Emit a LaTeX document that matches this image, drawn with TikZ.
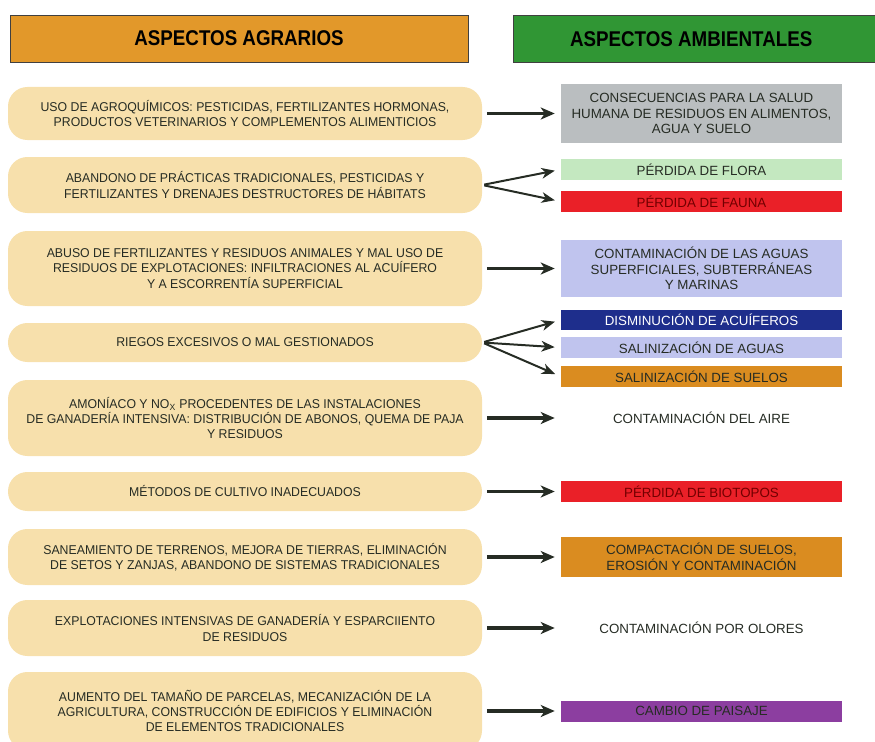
\documentclass[tikz,border=0pt]{standalone}
\usepackage{fontspec}
\setmainfont{Liberation Sans}
\newfontfamily\condfont[FakeStretch=0.96]{Liberation Sans}
\newfontfamily\headfont[FakeStretch=0.88]{Liberation Sans}
\usetikzlibrary{arrows.meta}
\definecolor{hdrorange}{RGB}{226,152,42}
\definecolor{hdrgreen}{RGB}{48,150,52}
\definecolor{pillcol}{RGB}{247,224,172}
\definecolor{inkcol}{RGB}{38,44,36}
\definecolor{saludgray}{RGB}{186,190,192}
\definecolor{floragreen}{RGB}{196,232,192}
\definecolor{faunared}{RGB}{234,32,40}
\definecolor{aguaslav}{RGB}{192,196,238}
\definecolor{acunavy}{RGB}{30,46,140}
\definecolor{sueloorange}{RGB}{218,140,32}
\definecolor{paisajepurple}{RGB}{140,62,160}
\begin{document}
\begin{tikzpicture}[x=0.75pt, y=-0.75pt,
  header/.style={draw=black!75, line width=0.6pt, minimum height=35.25pt, font=\headfont\fontsize{16}{18}\selectfont\bfseries},
  agro/.style={fill=pillcol, rounded corners=14.5pt, minimum width=355.5pt, align=center, text=inkcol, font=\condfont\fontsize{9.6}{11.5}\selectfont},
  amb/.style={minimum width=210.75pt, inner sep=0pt, align=center, text=inkcol, font=\fontsize{10}{11.6}\selectfont},
  arr/.style={line width=2.4pt, draw=inkcol, -{Stealth[length=10.5pt, width=9pt, inset=3pt]}, shorten <=3.5pt, shorten >=4.5pt},
  forkarr/.style={line width=1.5pt, draw=inkcol, -{Stealth[length=10pt, width=8pt, inset=3pt]}, shorten <=1.5pt, shorten >=4.5pt}]
\useasboundingbox (0,0) rectangle (875,742);

% headers
\node[header, fill=hdrorange, minimum width=343.5pt] (hagro) at (239,38.5) {ASPECTOS AGRARIOS};
\node[header, fill=hdrgreen, minimum width=275.25pt] (hamb) at (696.5,39) {\hspace*{-8pt}ASPECTOS AMBIENTALES};

% aspectos agrarios
\node[agro, minimum height=39.75pt] (agro1) at (245,113.5) {USO DE AGROQUÍMICOS: PESTICIDAS, FERTILIZANTES HORMONAS,\\PRODUCTOS VETERINARIOS Y COMPLEMENTOS ALIMENTICIOS};
\node[agro, minimum height=42pt] (agro2) at (245,185) {ABANDONO DE PRÁCTICAS TRADICIONALES, PESTICIDAS Y\\FERTILIZANTES Y DRENAJES DESTRUCTORES DE HÁBITATS};
\node[agro, minimum height=56.25pt] (agro3) at (245,268.5) {ABUSO DE FERTILIZANTES Y RESIDUOS ANIMALES Y MAL USO DE\\RESIDUOS DE EXPLOTACIONES: INFILTRACIONES AL ACUÍFERO\\Y A ESCORRENTÍA SUPERFICIAL};
\node[agro, minimum height=29.25pt] (agro4) at (245,342.5) {RIEGOS EXCESIVOS O MAL GESTIONADOS};
\node[agro, minimum height=57pt] (agro5) at (245,418) {AMONÍACO Y NO\textsubscript{X} PROCEDENTES DE LAS INSTALACIONES\\DE GANADERÍA INTENSIVA: DISTRIBUCIÓN DE ABONOS, QUEMA DE PAJA\\Y RESIDUOS};
\node[agro, minimum height=29.25pt] (agro6) at (245,491.5) {MÉTODOS DE CULTIVO INADECUADOS};
\node[agro, minimum height=42pt] (agro7) at (245,557) {SANEAMIENTO DE TERRENOS, MEJORA DE TIERRAS, ELIMINACIÓN\\DE SETOS Y ZANJAS, ABANDONO DE SISTEMAS TRADICIONALES};
\node[agro, minimum height=42pt] (agro8) at (245,628) {EXPLOTACIONES INTENSIVAS DE GANADERÍA Y ESPARCIIENTO\\DE RESIDUOS};
\node[agro, minimum height=58.5pt] (agro9) at (245,711) {AUMENTO DEL TAMAÑO DE PARCELAS, MECANIZACIÓN DE LA\\AGRICULTURA, CONSTRUCCIÓN DE EDIFICIOS Y ELIMINACIÓN\\DE ELEMENTOS TRADICIONALES};

% aspectos ambientales
\node[amb, fill=saludgray, minimum height=43.5pt] (amb1) at (701.5,113.5) {CONSECUENCIAS PARA LA SALUD\\HUMANA DE RESIDUOS EN ALIMENTOS,\\AGUA Y SUELO};
\node[amb, fill=floragreen, minimum height=15.75pt] (amb2) at (701.5,169.5) {PÉRDIDA DE FLORA};
\node[amb, fill=faunared, minimum height=15.75pt, text=red!45!black] (amb3) at (701.5,201.5) {PÉRDIDA DE FAUNA};
\node[amb, fill=aguaslav, minimum height=42.75pt] (amb4) at (701.5,268.5) {CONTAMINACIÓN DE LAS AGUAS\\SUPERFICIALES, SUBTERRÁNEAS\\Y MARINAS};
\node[amb, fill=acunavy, minimum height=15pt, text=white] (amb5) at (701.5,320) {DISMINUCIÓN DE ACUÍFEROS};
\node[amb, fill=aguaslav, minimum height=15.75pt] (amb6) at (701.5,347.5) {SALINIZACIÓN DE AGUAS};
\node[amb, fill=sueloorange, minimum height=15.75pt] (amb7) at (701.5,376.5) {SALINIZACIÓN DE SUELOS};
\node[amb, minimum height=15.75pt] (amb8) at (701.5,418) {CONTAMINACIÓN DEL AIRE};
\node[amb, fill=faunared, minimum height=15.75pt, text=red!45!black] (amb9) at (701.5,491.5) {PÉRDIDA DE BIOTOPOS};
\node[amb, fill=sueloorange, minimum height=30pt] (amb10) at (701.5,557) {COMPACTACIÓN DE SUELOS,\\EROSIÓN Y CONTAMINACIÓN};
\node[amb, minimum height=15.75pt] (amb11) at (701.5,628) {CONTAMINACIÓN POR OLORES};
\node[amb, fill=paisajepurple, minimum height=15.75pt] (amb12) at (701.5,711) {CAMBIO DE PAISAJE};

% flechas
\draw[arr] (agro1) -- (amb1);
\draw[forkarr] (agro2.east) -- (amb2.west);
\draw[forkarr] (agro2.east) -- (amb3.west);
\draw[arr] (agro3) -- (amb4);
\draw[forkarr] (agro4.east) -- (amb5.west);
\draw[forkarr] (agro4.east) -- (amb6.west);
\draw[forkarr] (agro4.east) -- (amb7.west);
\draw[arr] (agro5) -- (amb8);
\draw[arr] (agro6) -- (amb9);
\draw[arr] (agro7) -- (amb10);
\draw[arr] (agro8) -- (amb11);
\draw[arr] (agro9) -- (amb12);
\end{tikzpicture}
\end{document}
